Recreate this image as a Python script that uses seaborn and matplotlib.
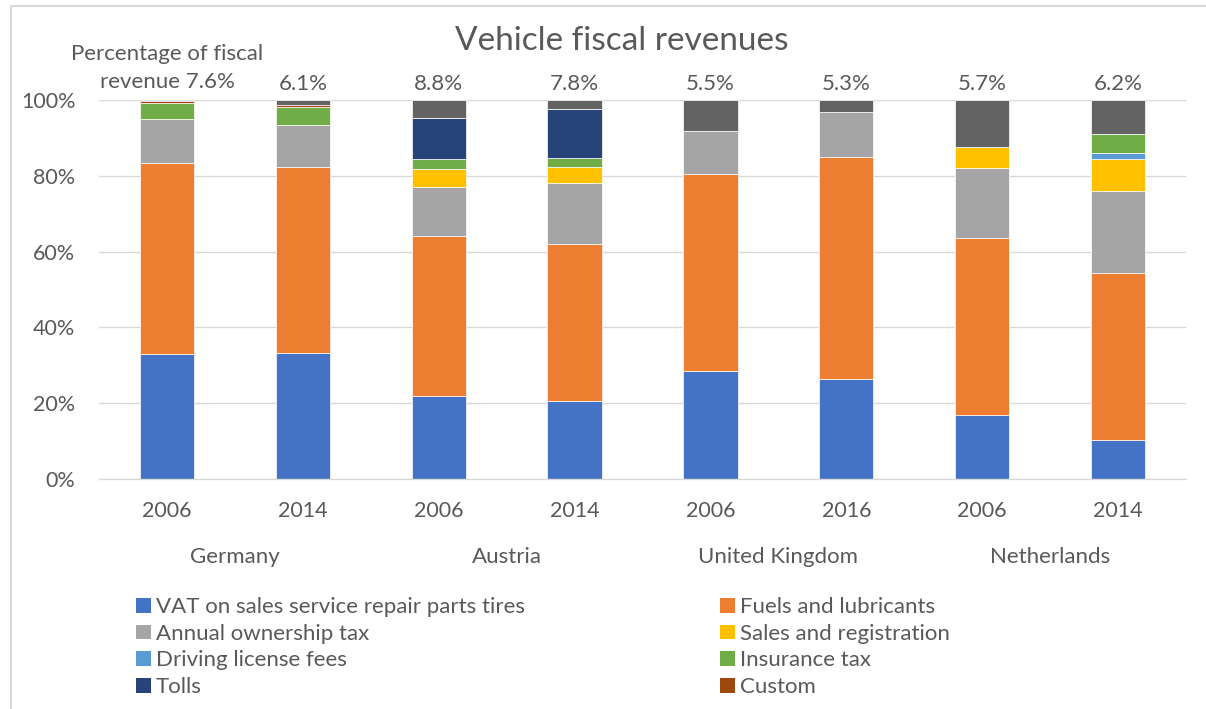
import matplotlib
matplotlib.use("Agg")
import matplotlib.pyplot as plt
import matplotlib.transforms as mtransforms
from matplotlib.patches import Patch, Rectangle
import pandas as pd
import seaborn as sns

# ---------------- data ----------------
countries = ["Germany", "Austria", "United Kingdom", "Netherlands"]
years = ["2006", "2014", "2006", "2014", "2006", "2016", "2006", "2014"]
share_labels = ["Percentage of fiscal\nrevenue 7.6%", "6.1%", "8.8%", "7.8%",
                "5.5%", "5.3%", "5.7%", "6.2%"]

series = ["VAT on sales service repair parts tires", "Fuels and lubricants",
          "Annual ownership tax", "Sales and registration", "Driving license fees",
          "Insurance tax", "Tolls", "Custom", "Other"]

vat = [33.0, 33.2, 21.9, 20.6, 28.5, 26.4, 16.9, 10.3]
fuels = [50.4, 49.1, 42.2, 41.4, 52.0, 58.6, 46.7, 44.1]
annual = [11.6, 11.1, 13.0, 16.2, 11.3, 11.9, 18.5, 21.6]
sales = [0.0, 0.0, 4.7, 4.1, 0.0, 0.0, 5.6, 8.4]
driving = [0.0, 0.0, 0.0, 0.0, 0.0, 0.0, 0.0, 1.5]
insurance = [4.2, 4.8, 2.6, 2.4, 0.0, 0.0, 0.0, 5.0]
tolls = [0.0, 0.0, 10.8, 12.9, 0.0, 0.0, 0.0, 0.0]
custom = [0.5, 0.5, 0.0, 0.0, 0.0, 0.0, 0.0, 0.0]
other = [0.3, 1.3, 4.8, 2.4, 8.2, 3.1, 12.3, 9.1]

colors = {
    "VAT on sales service repair parts tires": "#4472C4",
    "Fuels and lubricants": "#ED7D31",
    "Annual ownership tax": "#A5A5A5",
    "Sales and registration": "#FFC000",
    "Driving license fees": "#5B9BD5",
    "Insurance tax": "#70AD47",
    "Tolls": "#264478",
    "Custom": "#9E480E",
    "Other": "#636363",
}

values = [vat, fuels, annual, sales, driving, insurance, tolls, custom, other]
rows = []
for name, vals in zip(series, values):
    for i, v in enumerate(vals):
        if v > 0:
            rows.append({"bar": i, "series": name, "value": v})
df = pd.DataFrame(rows)

# ---------------- style ----------------
sns.set_theme(style="white")
plt.rcParams["font.family"] = ["Lato", "DejaVu Sans"]
TXT = "#595959"
GRID = "#D9D9D9"

W, H = 1206, 709
fig = plt.figure(figsize=(W / 100, H / 100), dpi=100)
ax = fig.add_axes([99 / W, 1 - 479 / H, (1186 - 99) / W, 379 / H])

sns.histplot(data=df, x="bar", weights="value", hue="series",
             hue_order=series[::-1], multiple="stack", discrete=True,
             shrink=0.4, palette=colors, alpha=1, edgecolor="white",
             linewidth=0.5, legend=False, ax=ax)

ax.set_xlim(-0.5, len(years) - 0.5)
ax.set_ylim(0, 100)
ax.set_xlabel("")
ax.set_ylabel("")
ax.set_yticks(range(0, 101, 20))
ax.set_yticklabels([f"{v}%" for v in range(0, 101, 20)])
ax.set_xticks(range(len(years)))
ax.set_xticklabels(years)
ax.yaxis.grid(True, color=GRID, lw=1)
ax.set_axisbelow(True)
for s in ["left", "right", "top"]:
    ax.spines[s].set_visible(False)
ax.spines["bottom"].set_color(GRID)
ax.spines["bottom"].set_linewidth(1)
ax.tick_params(axis="y", length=0, pad=17, labelsize=15.5, labelcolor=TXT)
ax.tick_params(axis="x", length=0, pad=16, labelsize=15.5, labelcolor=TXT)

# group labels
trans = mtransforms.blended_transform_factory(ax.transData, ax.transAxes)
for g, c in enumerate(countries):
    ax.text(2 * g + 0.5, -(557 - 479) / 379, c, transform=trans, ha="center",
            va="center", fontsize=16, color=TXT)

# share labels above bars
px_per_pct = 379 / 100
for i, lab in enumerate(share_labels):
    n = lab.count("\n") + 1
    center_px = 84 - (n - 1) * 16
    ax.text(i, 100 + (100 - center_px) / px_per_pct, lab, ha="center",
            va="center", fontsize=16, color=TXT, clip_on=False,
            linespacing=1.45)

# title
fig.text(622 / W, 1 - 41 / H, "Vehicle fiscal revenues", ha="center",
         va="center", fontsize=24, color=TXT)

# legend (two columns)
col1 = [series[0], series[2], series[4], series[6]]
col2 = [series[1], series[3], series[5], series[7]]
for names, xpos in [(col1, 125), (col2, 709)]:
    handles = [Patch(facecolor=colors[n], edgecolor="none", label=n) for n in names]
    fig.legend(handles=handles, loc="upper left",
               bbox_to_anchor=(xpos / W, 1 - 586 / H), frameon=False,
               fontsize=16, handlelength=0.65, handleheight=0.65,
               handletextpad=0.25, labelspacing=0.3, borderpad=0,
               labelcolor=TXT)

# chart border
fig.patches.append(Rectangle((11 / W, -0.05), 1.2, (H - 6) / H + 0.05,
                             fill=False, edgecolor=GRID, lw=1.5,
                             transform=fig.transFigure))

fig.savefig("out.png", dpi=100)
